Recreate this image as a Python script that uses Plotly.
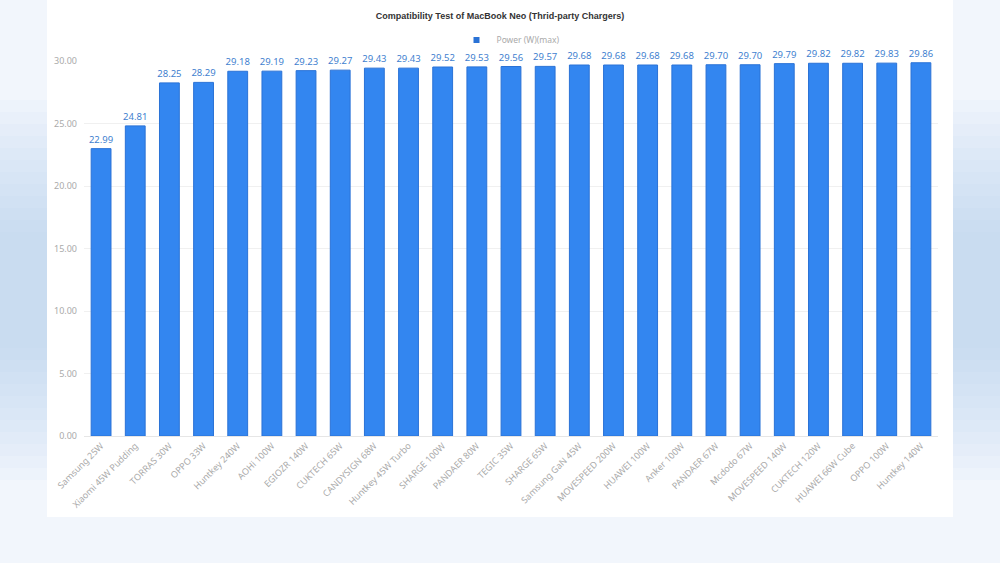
import plotly.graph_objects as go

chargers = ["Samsung 25W", "Xiaomi 45W Pudding", "TORRAS 30W", "OPPO 33W", "Huntkey 240W",
            "AOHi 100W", "EGIOZR 140W", "CUKTECH 65W", "CANDYSIGN 68W", "Huntkey 45W Turbo",
            "SHARGE 100W", "PANDAER 80W", "TEGIC 35W", "SHARGE 65W", "Samsung GaN 45W",
            "MOVESPEED 200W", "HUAWEI 100W", "Anker 100W", "PANDAER 67W", "Mcdodo 67W",
            "MOVESPEED 140W", "CUKTECH 120W", "HUAWEI 66W Cube", "OPPO 100W", "Huntkey 140W"]
power_max = [22.99, 24.81, 28.25, 28.29, 29.18, 29.19, 29.23, 29.27, 29.43, 29.43,
             29.52, 29.53, 29.56, 29.57, 29.68, 29.68, 29.68, 29.68, 29.70, 29.70,
             29.79, 29.82, 29.82, 29.83, 29.86]
y_ticks = [0, 5, 10, 15, 20, 25, 30]
series_name = "Power (W)(max)"

W, H = 1000, 563
ml, mr, mt, mb = 84, 62, 61, 127
pw, ph = W - ml - mr, H - mt - mb

def px_to_paper_x(px):
    return (px - ml) / pw

def px_to_paper_y(py):
    return (H - mb - py) / ph

BAR = "#3386F0"

fig = go.Figure()
fig.add_trace(go.Bar(
    x=chargers, y=power_max, name=series_name,
    marker=dict(color=BAR, line=dict(color="#2a72d6", width=1)),
    text=[f"{v:.2f}" for v in power_max], textposition="outside",
    textfont=dict(color="#3f7fcf", size=9.5), constraintext="none",
    cliponaxis=False, showlegend=False,
))
# legend entry with a small square marker
fig.add_trace(go.Scatter(
    x=[None], y=[None], mode="markers", name=series_name,
    marker=dict(symbol="square", size=6, color="#2a72d6"), showlegend=True,
))

shapes = []
# soft blue glow on the sides (stacked translucent bands)
n = 12
for i in range(n):
    y0 = 100 + i * 12
    y1 = 480 - i * 12
    for x0, x1 in [(0, 47), (953, 1000)]:
        shapes.append(dict(type="rect", xref="paper", yref="paper", layer="below",
                           x0=px_to_paper_x(x0), x1=px_to_paper_x(x1),
                           y0=px_to_paper_y(y1), y1=px_to_paper_y(y0),
                           fillcolor="#a9c8f4", opacity=0.06, line=dict(width=0)))
# white card
shapes.append(dict(type="rect", xref="paper", yref="paper", layer="below",
                   x0=px_to_paper_x(47), x1=px_to_paper_x(953),
                   y0=px_to_paper_y(517), y1=px_to_paper_y(-5),
                   fillcolor="white", line=dict(width=0)))

fig.update_layout(
    width=W, height=H,
    margin=dict(l=ml, r=mr, t=mt, b=mb),
    paper_bgcolor="#f2f6fc", plot_bgcolor="rgba(0,0,0,0)",
    font=dict(family="Noto Sans, Open Sans, sans-serif", color="#999"),
    title=dict(text="<b>Compatibility Test of MacBook Neo (Thrid-party Chargers)</b>",
               x=0.5, xanchor="center", y=1 - 16 / H, yanchor="middle",
               font=dict(family="Liberation Sans, Arial, sans-serif", size=9, color="#333")),
    legend=dict(orientation="h", x=0.5, xanchor="center", y=px_to_paper_y(40), yanchor="middle",
                font=dict(size=8.5, color="#aaa"), bgcolor="rgba(0,0,0,0)",
                itemwidth=30),
    bargap=0.42,
    shapes=shapes,
    xaxis=dict(tickangle=-45, tickfont=dict(size=9, color="#aaa"), showgrid=False,
               showline=True, linecolor="#e6e6e6", ticks=""),
    yaxis=dict(range=[0, 30], tickvals=y_ticks, ticktext=[f"{v:.2f}" for v in y_ticks],
               tickfont=dict(size=9, color="#aaa"), gridcolor="#f0f0f0", zeroline=False,
               showline=False, ticks="", ticklabelstandoff=6),
)

fig.write_html("out.html", config={"displayModeBar": False},
               post_script="document.body.style.margin='0';document.body.style.overflow='hidden';")
